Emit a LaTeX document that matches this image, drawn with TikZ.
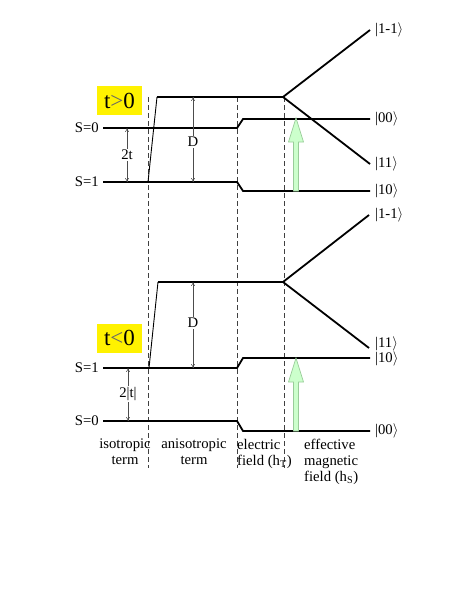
\documentclass[tikz,border=0pt]{standalone}
\usepackage{fontspec}
\setmainfont{Liberation Serif}
\usetikzlibrary{arrows.meta}
\definecolor{garrowfill}{HTML}{CCFFCC}
\definecolor{garrowline}{HTML}{99CC99}
\begin{document}
\begin{tikzpicture}[x=1pt,y=-1pt,
  lvl/.style={line width=1.8pt, line join=miter},
  thinlvl/.style={line width=0.9pt},
  divider/.style={line width=0.8pt, dash pattern=on 5pt off 3pt, black!75},
  gap/.style={line width=0.5pt, gray!60!black, {To[length=4pt,width=4pt]}-{To[length=4pt,width=4pt]}},
  lbl/.style={font=\fontsize{14.7}{16}\selectfont, inner sep=0pt},
  ket/.style={lbl, anchor=west},
  gaplbl/.style={lbl, fill=white, inner sep=1.5pt},
  yel/.style={fill=yellow, font=\fontsize{23}{24}\selectfont, minimum width=45pt, minimum height=29pt, inner sep=0pt},
  garrow/.style={fill=garrowfill, draw=garrowline, line width=0.7pt, line join=miter}
]
\useasboundingbox[fill=white] (0,0) rectangle (463,599);

% dashed dividers
\coordinate (d1t) at (148,97);  \coordinate (d1b) at (148,468);
\coordinate (d2t) at (237,97);  \coordinate (d2b) at (237,468);
\coordinate (d3t) at (284,97);  \coordinate (d3b) at (284,468);
\draw[divider] (d1t) -- (d1b);
\draw[divider] (d2t) -- (d2b);
\draw[divider] (d3t) -- (d3b);

% ---------------- top panel (t>0)
\node[yel] (tpos) at (119.5,100.5) {t\textcolor{black!60}{>}0};
\coordinate (a0) at (103,128); \coordinate (a1) at (237,128); \coordinate (a2) at (243,119); \coordinate (a3) at (370,119);
\coordinate (b0) at (103,182); \coordinate (b1) at (237,182); \coordinate (b2) at (243,191); \coordinate (b3) at (370,191);
\coordinate (c0) at (148,182); \coordinate (c1) at (157,97); \coordinate (c2) at (283,97);
\coordinate (cu) at (370,30); \coordinate (cd) at (370,164);
\draw[lvl] (a0) -- (a1) -- (a2) -- (a3);
\draw[lvl] (b0) -- (b1) -- (b2) -- (b3);
\draw[thinlvl] (c0) -- (c1);
\draw[lvl] (c1) -- (c2) -- (cu);
\draw[lvl] (c2) -- (cd);
\node[lbl, anchor=east] (s0t) at (99,128) {S=0};
\node[lbl, anchor=east] (s1t) at (99,182) {S=1};
\coordinate (g1) at (127,128); \coordinate (g2) at (127,182);
\draw[gap] (g1) -- (g2);
\node[gaplbl] (twot) at (127,155) {2t};
\coordinate (h1) at (193,97); \coordinate (h2) at (193,182);
\draw[gap] (h1) -- (h2);
\node[gaplbl] (Dt) at (193,142) {D};
\draw[garrow] (293.5,191) -- (293.5,142) -- (288.5,142) -- (296,118) -- (303.5,142) -- (298.5,142) -- (298.5,191) -- cycle;
\node[ket] (k1t) at (375,30) {|1-1$\rangle$};
\node[ket] (k2t) at (375,119) {|00$\rangle$};
\node[ket] (k3t) at (375,164) {|11$\rangle$};
\node[ket] (k4t) at (375,191) {|10$\rangle$};

% ---------------- bottom panel (t<0)
\node[yel] (tneg) at (119.5,338) {t\textcolor{black!60}{<}0};
\coordinate (e0) at (103,368); \coordinate (e1) at (237,368); \coordinate (e2) at (243,358); \coordinate (e3) at (370,358);
\coordinate (f0) at (103,421); \coordinate (f1) at (237,421); \coordinate (f2) at (243,431); \coordinate (f3) at (370,431);
\coordinate (m0) at (149,368); \coordinate (m1) at (158,282); \coordinate (m2) at (283,282);
\coordinate (mu) at (369,215); \coordinate (md) at (369,348);
\draw[lvl] (e0) -- (e1) -- (e2) -- (e3);
\draw[lvl] (f0) -- (f1) -- (f2) -- (f3);
\draw[thinlvl] (m0) -- (m1);
\draw[lvl] (m1) -- (m2) -- (mu);
\draw[lvl] (m2) -- (md);
\node[lbl, anchor=east] (s1b) at (99,368) {S=1};
\node[lbl, anchor=east] (s0b) at (99,421) {S=0};
\coordinate (g3) at (128,368); \coordinate (g4) at (128,421);
\draw[gap] (g3) -- (g4);
\node[gaplbl] (twotb) at (128,394) {2|t|};
\coordinate (h3) at (193,282); \coordinate (h4) at (193,368);
\draw[gap] (h3) -- (h4);
\node[gaplbl] (Db) at (193,323) {D};
\draw[garrow] (293.5,431) -- (293.5,382) -- (288.5,382) -- (296,358) -- (303.5,382) -- (298.5,382) -- (298.5,431) -- cycle;
\node[ket] (k1b) at (375,215) {|1-1$\rangle$};
\node[ket] (k2b) at (375,344) {|11$\rangle$};
\node[ket] (k3b) at (375,359) {|10$\rangle$};
\node[ket] (k4b) at (375,431) {|00$\rangle$};

% ---------------- captions
\node[lbl, align=center, anchor=north] (iso) at (125,439) {isotropic\\term};
\node[lbl, align=center, anchor=north] (aniso) at (194,439) {anisotropic\\term};
\node[lbl, align=left, anchor=north west] (elec) at (237,439) {electric\\field (h\textsubscript{T})};
\node[lbl, align=left, anchor=north west] (mag) at (304,439) {effective\\magnetic\\field (h\textsubscript{S})};
\end{tikzpicture}
\end{document}
